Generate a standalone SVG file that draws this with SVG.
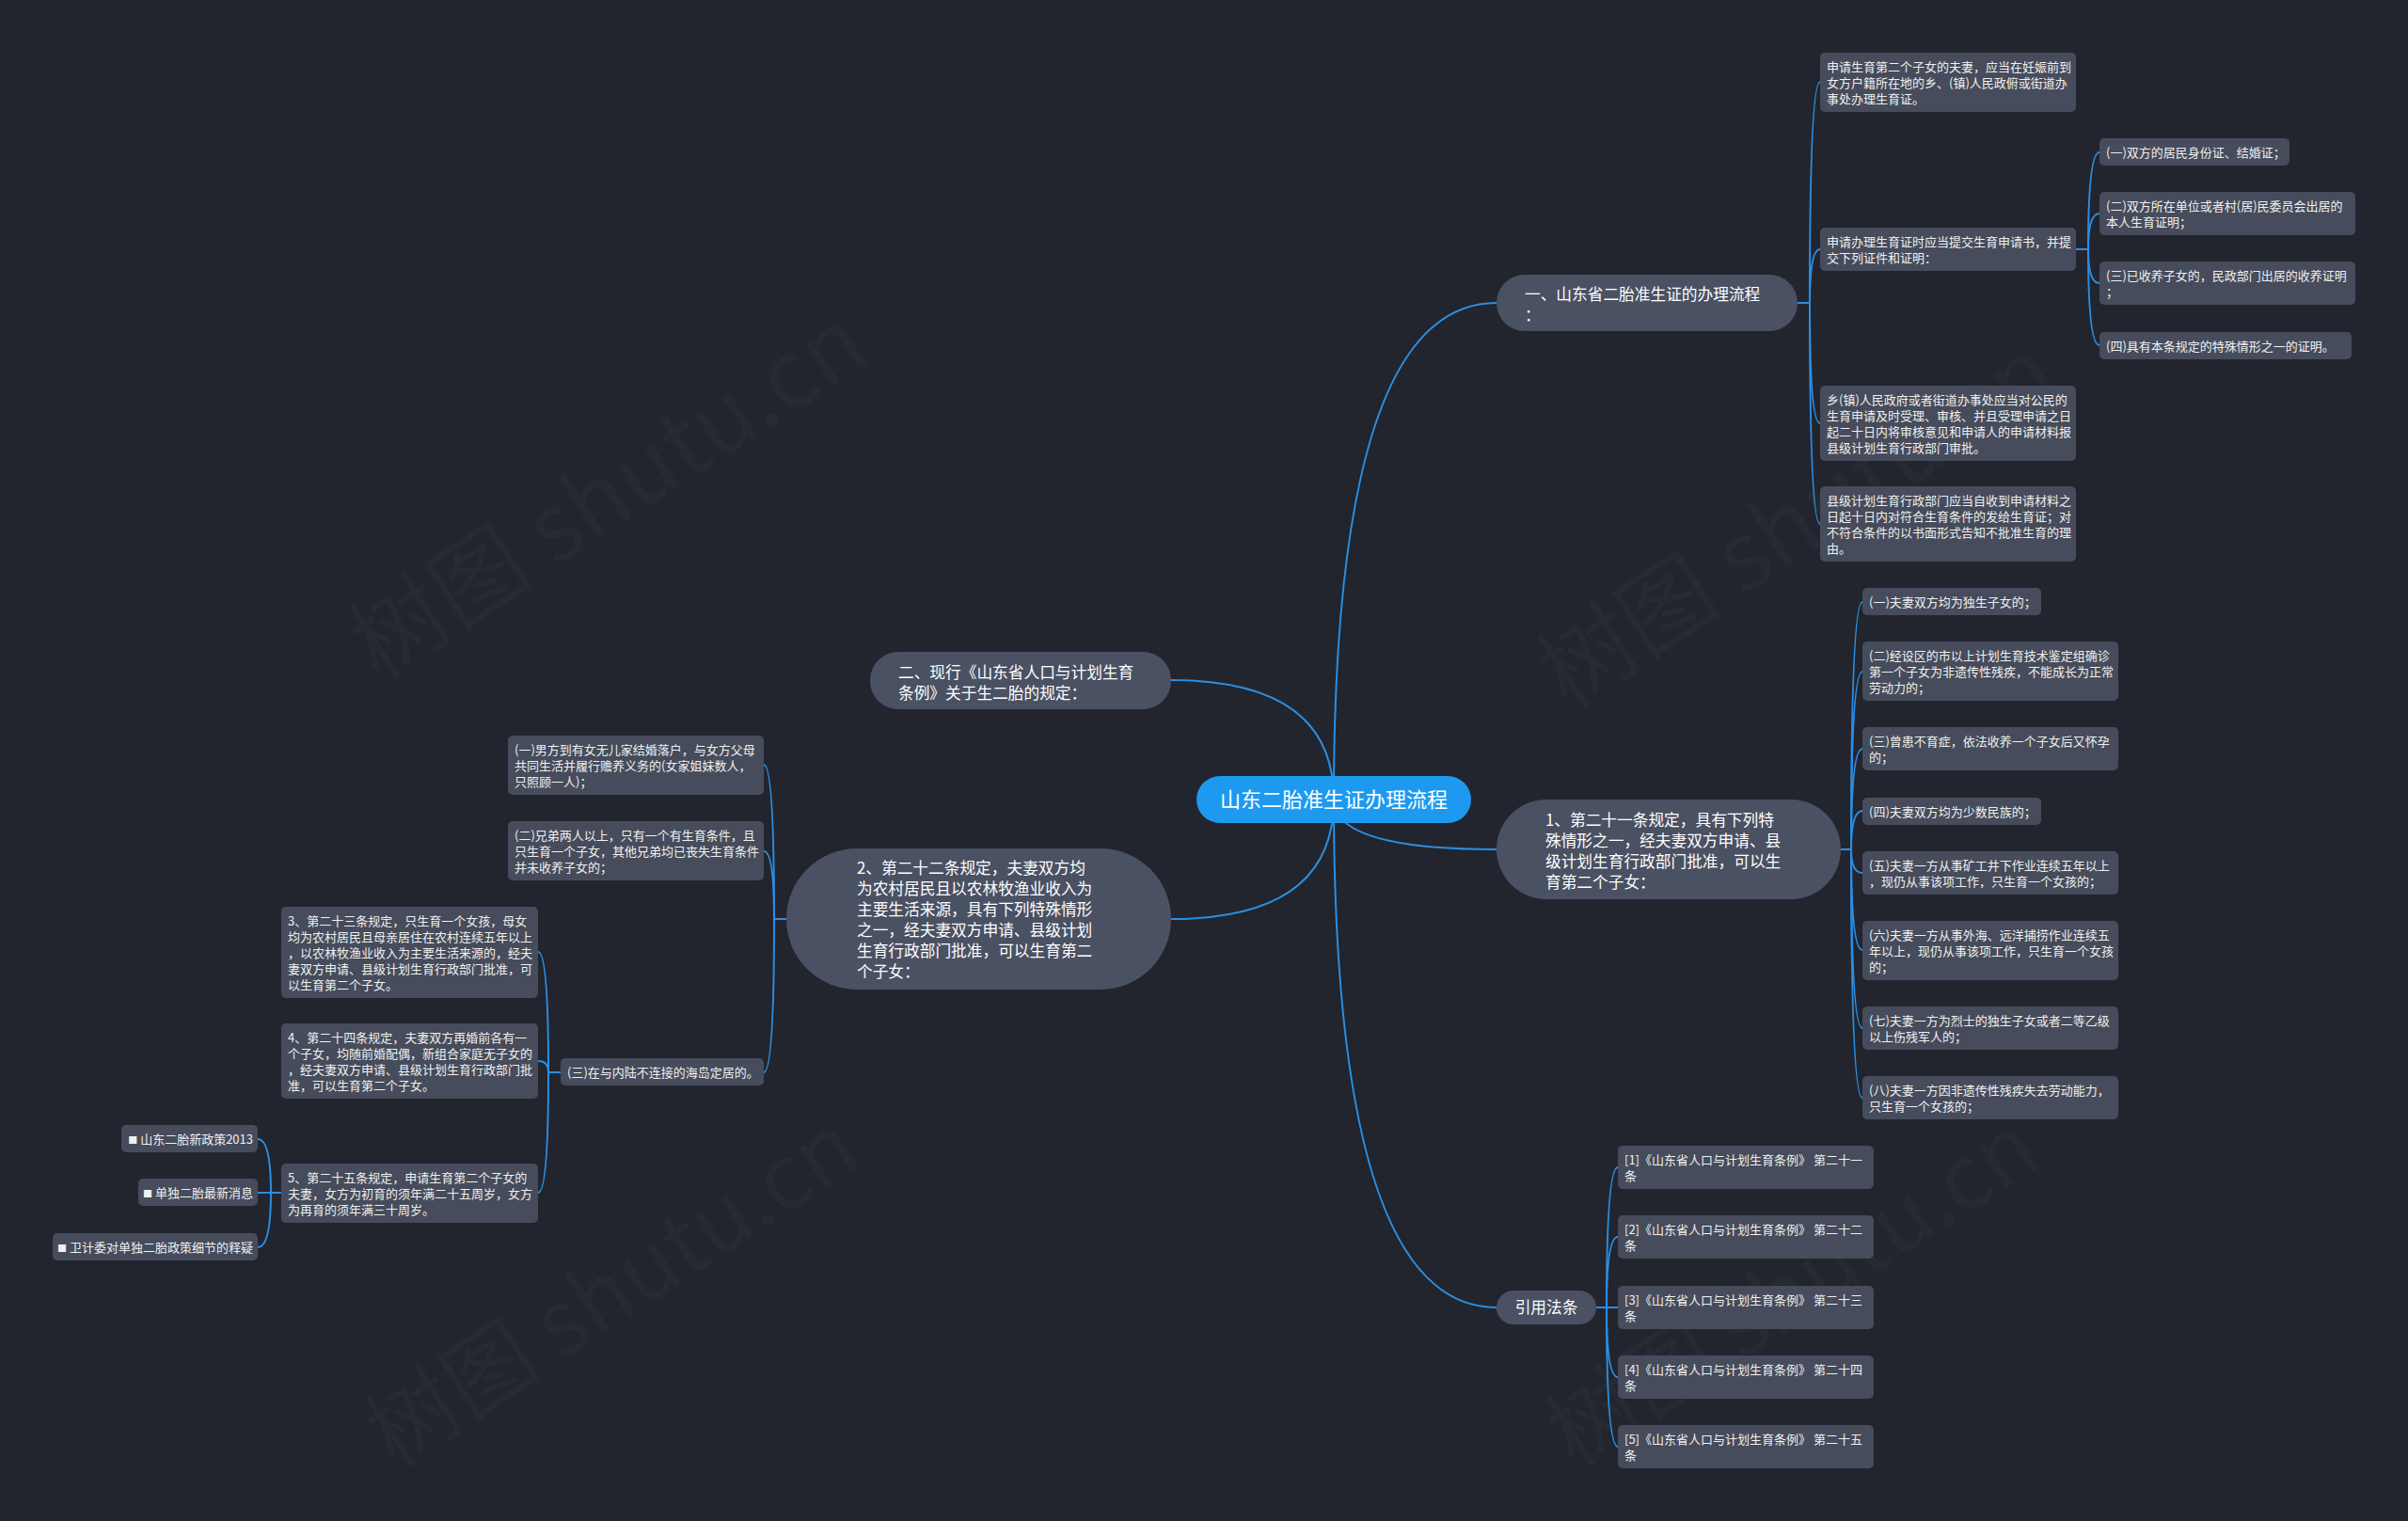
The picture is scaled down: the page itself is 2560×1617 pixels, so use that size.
<svg xmlns="http://www.w3.org/2000/svg" width="2560" height="1617" viewBox="0 0 2560 1617">
<style>
.bg{fill:#22252e}
.leaf{fill:#464c5b}
.main{fill:#4a5163}
.ctr{fill:#1d9af0}
.t{font-family:"Noto Sans CJK SC","Noto Sans",sans-serif;font-size:13px;fill:#f0f0f0}
.b{font-size:10px}
.tm{font-family:"Noto Sans CJK SC","Noto Sans",sans-serif;font-size:16.7px;fill:#ffffff}
.tc{font-family:"Noto Sans CJK SC","Noto Sans",sans-serif;font-size:22px;fill:#ffffff}
.c{fill:none;stroke:#2b8ee2;stroke-width:2}
.wm{font-family:"Noto Sans CJK SC","Noto Sans",sans-serif;font-size:100px;fill:#ffffff;fill-opacity:0.025}
.wm2{font-size:95px}
</style>
<rect class="bg" x="0" y="0" width="2560" height="1617"/>
<g id="watermark">
<text class="wm" x="645" y="560" text-anchor="middle" transform="rotate(-33 645 522)">树图 shutu.cn</text>
<text class="wm" x="1910" y="590" text-anchor="middle" transform="rotate(-33 1910 555)">树图 shutu.cn</text>
<text class="wm wm2" x="650" y="1405" text-anchor="middle" transform="rotate(-33 650 1370)">树图 shutu.cn</text>
<text class="wm wm2" x="1905" y="1405" text-anchor="middle" transform="rotate(-33 1905 1370)">树图 shutu.cn</text>
</g>
<g id="connectors">
<path class="c" d="M1418,850 Q1418,322 1591,322"/>
<path class="c" d="M1418,850 Q1418,903 1591,903"/>
<path class="c" d="M1418,850 Q1418,1390 1591,1390"/>
<path class="c" d="M1418,850 Q1418,723 1245,723"/>
<path class="c" d="M1418,850 Q1418,977 1245,977"/>
<path class="c" d="M1911,322 L1924,322 Q1924,87 1935,87"/>
<path class="c" d="M1911,322 L1924,322 Q1924,265 1935,265"/>
<path class="c" d="M1911,322 L1924,322 Q1924,450 1935,450"/>
<path class="c" d="M1911,322 L1924,322 Q1924,557 1935,557"/>
<path class="c" d="M2207,265 L2220,265 Q2220,162 2232,162"/>
<path class="c" d="M2207,265 L2220,265 Q2220,227 2232,227"/>
<path class="c" d="M2207,265 L2220,265 Q2220,301 2232,301"/>
<path class="c" d="M2207,265 L2220,265 Q2220,367 2232,367"/>
<path class="c" d="M1957,903 L1968,903 Q1968,640 1980,640"/>
<path class="c" d="M1957,903 L1968,903 Q1968,714 1980,714"/>
<path class="c" d="M1957,903 L1968,903 Q1968,796 1980,796"/>
<path class="c" d="M1957,903 L1968,903 Q1968,862 1980,862"/>
<path class="c" d="M1957,903 L1968,903 Q1968,928 1980,928"/>
<path class="c" d="M1957,903 L1968,903 Q1968,1010 1980,1010"/>
<path class="c" d="M1957,903 L1968,903 Q1968,1093 1980,1093"/>
<path class="c" d="M1957,903 L1968,903 Q1968,1167 1980,1167"/>
<path class="c" d="M1697,1390 L1708,1390 Q1708,1241 1720,1241"/>
<path class="c" d="M1697,1390 L1708,1390 Q1708,1315 1720,1315"/>
<path class="c" d="M1697,1390 L1720,1390"/>
<path class="c" d="M1697,1390 L1708,1390 Q1708,1464 1720,1464"/>
<path class="c" d="M1697,1390 L1708,1390 Q1708,1538 1720,1538"/>
<path class="c" d="M836,977 L823,977 Q823,813 812,813"/>
<path class="c" d="M836,977 L823,977 Q823,905 812,905"/>
<path class="c" d="M836,977 L823,977 Q823,1140 812,1140"/>
<path class="c" d="M596,1140 L583,1140 Q583,1012 572,1012"/>
<path class="c" d="M596,1140 L583,1140 Q583,1128 572,1128"/>
<path class="c" d="M596,1140 L583,1140 Q583,1268 572,1268"/>
<path class="c" d="M299,1268 L288,1268 Q288,1211 274,1211"/>
<path class="c" d="M299,1268 L274,1268"/>
<path class="c" d="M299,1268 L288,1268 Q288,1326 274,1326"/>
</g>
<g id="center">
<rect class="ctr" x="1272" y="825" width="292" height="50" rx="25"/>
<text class="tc" x="1418" y="858" text-anchor="middle">山东二胎准生证办理流程</text>
</g>
<g id="branch1">
<rect class="main" x="1591" y="292" width="320" height="60" rx="30"/>
<text class="tm"><tspan x="1621" y="319">一、山东省二胎准生证的办理流程</tspan><tspan x="1621" y="341">：</tspan></text>
</g>
<g id="b1-leaf1">
<rect class="leaf" x="1935" y="56" width="272" height="63" rx="5"/>
<text class="t"><tspan x="1942" y="75.5">申请生育第二个子女的夫妻，应当在妊娠前到</tspan><tspan x="1942" y="92.5">女方户籍所在地的乡、(镇)人民政俯或街道办</tspan><tspan x="1942" y="109.5">事处办理生育证。</tspan></text>
</g>
<g id="b1-leaf2">
<rect class="leaf" x="1935" y="242" width="272" height="46" rx="5"/>
<text class="t"><tspan x="1942" y="261.5">申请办理生育证时应当提交生育申请书，并提</tspan><tspan x="1942" y="278.5">交下列证件和证明：</tspan></text>
</g>
<g id="b1-sub1">
<rect class="leaf" x="2232" y="147" width="202" height="29" rx="5"/>
<text class="t"><tspan x="2239" y="166.5">(一)双方的居民身份证、结婚证；</tspan></text>
</g>
<g id="b1-sub2">
<rect class="leaf" x="2232" y="204" width="272" height="46" rx="5"/>
<text class="t"><tspan x="2239" y="223.5">(二)双方所在单位或者村(居)民委员会出居的</tspan><tspan x="2239" y="240.5">本人生育证明；</tspan></text>
</g>
<g id="b1-sub3">
<rect class="leaf" x="2232" y="278" width="272" height="46" rx="5"/>
<text class="t"><tspan x="2239" y="297.5">(三)已收养子女的，民政部门出居的收养证明</tspan><tspan x="2239" y="314.5">；</tspan></text>
</g>
<g id="b1-sub4">
<rect class="leaf" x="2232" y="353" width="268" height="29" rx="5"/>
<text class="t"><tspan x="2239" y="372.5">(四)具有本条规定的特殊情形之一的证明。</tspan></text>
</g>
<g id="b1-leaf3">
<rect class="leaf" x="1935" y="410" width="272" height="80" rx="5"/>
<text class="t"><tspan x="1942" y="429.5">乡(镇)人民政府或者街道办事处应当对公民的</tspan><tspan x="1942" y="446.5">生育申请及时受理、审核、并且受理申请之日</tspan><tspan x="1942" y="463.5">起二十日内将审核意见和申请人的申请材料报</tspan><tspan x="1942" y="480.5">县级计划生育行政部门审批。</tspan></text>
</g>
<g id="b1-leaf4">
<rect class="leaf" x="1935" y="517" width="272" height="80" rx="5"/>
<text class="t"><tspan x="1942" y="536.5">县级计划生育行政部门应当自收到申请材料之</tspan><tspan x="1942" y="553.5">日起十日内对符合生育条件的发给生育证；对</tspan><tspan x="1942" y="570.5">不符合条件的以书面形式告知不批准生育的理</tspan><tspan x="1942" y="587.5">由。</tspan></text>
</g>
<g id="branch2">
<rect class="main" x="1591" y="850" width="366" height="106" rx="53"/>
<text class="tm"><tspan x="1643" y="878">1、第二十一条规定，具有下列特</tspan><tspan x="1643" y="900">殊情形之一，经夫妻双方申请、县</tspan><tspan x="1643" y="922">级计划生育行政部门批准，可以生</tspan><tspan x="1643" y="944">育第二个子女：</tspan></text>
</g>
<g id="b2-c1">
<rect class="leaf" x="1980" y="625" width="190" height="29" rx="5"/>
<text class="t"><tspan x="1987" y="644.5">(一)夫妻双方均为独生子女的；</tspan></text>
</g>
<g id="b2-c2">
<rect class="leaf" x="1980" y="682" width="272" height="63" rx="5"/>
<text class="t"><tspan x="1987" y="701.5">(二)经设区的市以上计划生育技术鉴定组确诊</tspan><tspan x="1987" y="718.5">第一个子女为非遗传性残疾，不能成长为正常</tspan><tspan x="1987" y="735.5">劳动力的；</tspan></text>
</g>
<g id="b2-c3">
<rect class="leaf" x="1980" y="773" width="272" height="46" rx="5"/>
<text class="t"><tspan x="1987" y="792.5">(三)曾患不育症，依法收养一个子女后又怀孕</tspan><tspan x="1987" y="809.5">的；</tspan></text>
</g>
<g id="b2-c4">
<rect class="leaf" x="1980" y="848" width="190" height="29" rx="5"/>
<text class="t"><tspan x="1987" y="867.5">(四)夫妻双方均为少数民族的；</tspan></text>
</g>
<g id="b2-c5">
<rect class="leaf" x="1980" y="905" width="272" height="46" rx="5"/>
<text class="t"><tspan x="1987" y="924.5">(五)夫妻一方从事矿工井下作业连续五年以上</tspan><tspan x="1987" y="941.5">，现仍从事该项工作，只生育一个女孩的；</tspan></text>
</g>
<g id="b2-c6">
<rect class="leaf" x="1980" y="979" width="272" height="63" rx="5"/>
<text class="t"><tspan x="1987" y="998.5">(六)夫妻一方从事外海、远洋捕捞作业连续五</tspan><tspan x="1987" y="1015.5">年以上，现仍从事该项工作，只生育一个女孩</tspan><tspan x="1987" y="1032.5">的；</tspan></text>
</g>
<g id="b2-c7">
<rect class="leaf" x="1980" y="1070" width="272" height="46" rx="5"/>
<text class="t"><tspan x="1987" y="1089.5">(七)夫妻一方为烈士的独生子女或者二等乙级</tspan><tspan x="1987" y="1106.5">以上伤残军人的；</tspan></text>
</g>
<g id="b2-c8">
<rect class="leaf" x="1980" y="1144" width="272" height="46" rx="5"/>
<text class="t"><tspan x="1987" y="1163.5">(八)夫妻一方因非遗传性残疾失去劳动能力，</tspan><tspan x="1987" y="1180.5">只生育一个女孩的；</tspan></text>
</g>
<g id="branch3">
<rect class="main" x="1591" y="1372" width="106" height="36" rx="18"/>
<text class="tm" x="1644" y="1396" text-anchor="middle">引用法条</text>
</g>
<g id="ref1">
<rect class="leaf" x="1720" y="1218" width="272" height="46" rx="5"/>
<text class="t"><tspan x="1727" y="1237.5">[1]《山东省人口与计划生育条例》 第二十一</tspan><tspan x="1727" y="1254.5">条</tspan></text>
</g>
<g id="ref2">
<rect class="leaf" x="1720" y="1292" width="272" height="46" rx="5"/>
<text class="t"><tspan x="1727" y="1311.5">[2]《山东省人口与计划生育条例》 第二十二</tspan><tspan x="1727" y="1328.5">条</tspan></text>
</g>
<g id="ref3">
<rect class="leaf" x="1720" y="1367" width="272" height="46" rx="5"/>
<text class="t"><tspan x="1727" y="1386.5">[3]《山东省人口与计划生育条例》 第二十三</tspan><tspan x="1727" y="1403.5">条</tspan></text>
</g>
<g id="ref4">
<rect class="leaf" x="1720" y="1441" width="272" height="46" rx="5"/>
<text class="t"><tspan x="1727" y="1460.5">[4]《山东省人口与计划生育条例》 第二十四</tspan><tspan x="1727" y="1477.5">条</tspan></text>
</g>
<g id="ref5">
<rect class="leaf" x="1720" y="1515" width="272" height="46" rx="5"/>
<text class="t"><tspan x="1727" y="1534.5">[5]《山东省人口与计划生育条例》 第二十五</tspan><tspan x="1727" y="1551.5">条</tspan></text>
</g>
<g id="branch4">
<rect class="main" x="925" y="693" width="320" height="61" rx="30"/>
<text class="tm"><tspan x="955" y="721">二、现行《山东省人口与计划生育</tspan><tspan x="955" y="743">条例》关于生二胎的规定：</tspan></text>
</g>
<g id="branch5">
<rect class="main" x="836" y="902" width="409" height="150" rx="75"/>
<text class="tm"><tspan x="911" y="929">2、第二十二条规定，夫妻双方均</tspan><tspan x="911" y="951">为农村居民且以农林牧渔业收入为</tspan><tspan x="911" y="973">主要生活来源，具有下列特殊情形</tspan><tspan x="911" y="995">之一，经夫妻双方申请、县级计划</tspan><tspan x="911" y="1017">生育行政部门批准，可以生育第二</tspan><tspan x="911" y="1039">个子女：</tspan></text>
</g>
<g id="b5-c1">
<rect class="leaf" x="540" y="782" width="272" height="63" rx="5"/>
<text class="t"><tspan x="547" y="801.5">(一)男方到有女无儿家结婚落户，与女方父母</tspan><tspan x="547" y="818.5">共同生活并履行赡养义务的(女家姐妹数人，</tspan><tspan x="547" y="835.5">只照顾一人)；</tspan></text>
</g>
<g id="b5-c2">
<rect class="leaf" x="540" y="873" width="272" height="63" rx="5"/>
<text class="t"><tspan x="547" y="892.5">(二)兄弟两人以上，只有一个有生育条件，且</tspan><tspan x="547" y="909.5">只生育一个子女，其他兄弟均已丧失生育条件</tspan><tspan x="547" y="926.5">并未收养子女的；</tspan></text>
</g>
<g id="b5-c3">
<rect class="leaf" x="596" y="1125" width="216" height="29" rx="5"/>
<text class="t"><tspan x="603" y="1144.5">(三)在与内陆不连接的海岛定居的。</tspan></text>
</g>
<g id="b5-c3-a">
<rect class="leaf" x="299" y="964" width="273" height="97" rx="5"/>
<text class="t"><tspan x="306" y="983.5">3、第二十三条规定，只生育一个女孩，母女</tspan><tspan x="306" y="1000.5">均为农村居民且母亲居住在农村连续五年以上</tspan><tspan x="306" y="1017.5">，以农林牧渔业收入为主要生活来源的，经夫</tspan><tspan x="306" y="1034.5">妻双方申请、县级计划生育行政部门批准，可</tspan><tspan x="306" y="1051.5">以生育第二个子女。</tspan></text>
</g>
<g id="b5-c3-b">
<rect class="leaf" x="299" y="1088" width="273" height="80" rx="5"/>
<text class="t"><tspan x="306" y="1107.5">4、第二十四条规定，夫妻双方再婚前各有一</tspan><tspan x="306" y="1124.5">个子女，均随前婚配偶，新组合家庭无子女的</tspan><tspan x="306" y="1141.5">，经夫妻双方申请、县级计划生育行政部门批</tspan><tspan x="306" y="1158.5">准，可以生育第二个子女。</tspan></text>
</g>
<g id="b5-c3-c">
<rect class="leaf" x="299" y="1237" width="273" height="63" rx="5"/>
<text class="t"><tspan x="306" y="1256.5">5、第二十五条规定，申请生育第二个子女的</tspan><tspan x="306" y="1273.5">夫妻，女方为初育的须年满二十五周岁，女方</tspan><tspan x="306" y="1290.5">为再育的须年满三十周岁。</tspan></text>
</g>
<g id="link1">
<rect class="leaf" x="129" y="1196" width="145" height="29" rx="5"/>
<text class="t" x="269" y="1215.5" text-anchor="end"><tspan class="b">■</tspan> 山东二胎新政策2013</text>
</g>
<g id="link2">
<rect class="leaf" x="147" y="1253" width="127" height="29" rx="5"/>
<text class="t" x="269" y="1272.5" text-anchor="end"><tspan class="b">■</tspan> 单独二胎最新消息</text>
</g>
<g id="link3">
<rect class="leaf" x="56" y="1311" width="218" height="29" rx="5"/>
<text class="t" x="269" y="1330.5" text-anchor="end"><tspan class="b">■</tspan> 卫计委对单独二胎政策细节的释疑</text>
</g>
</svg>
